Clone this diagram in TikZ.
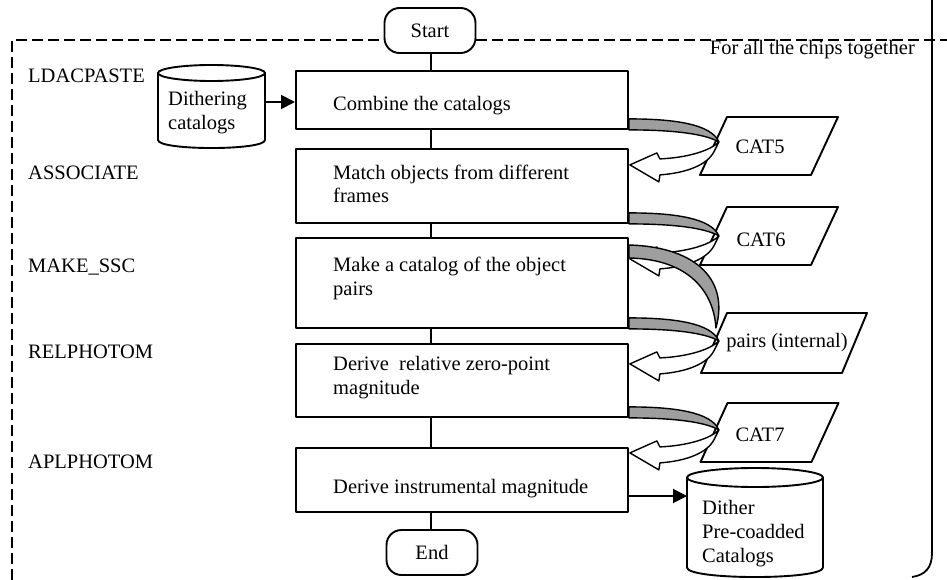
\documentclass[tikz,border=0pt]{standalone}
\usepackage{fontspec}
\setmainfont{Liberation Serif}
\usetikzlibrary{arrows.meta}
\begin{document}
\begin{tikzpicture}[x=1pt, y=-1pt, line join=round,
  every node/.style={font=\fontsize{20.5}{24}\selectfont, inner sep=0pt},
  txt/.style={anchor=base west, align=left},
  procbox/.style={draw, line width=1.9pt, minimum width=332pt, minimum height=#1, anchor=north west},
  term/.style={draw, line width=1.9pt, rounded corners=15pt, minimum width=91pt, minimum height=45pt},
  conn/.style={line width=1.9pt},
  flow/.style={line width=1.9pt, -{Triangle[length=14pt, width=14pt]}},
  frame/.style={line width=1.5pt, dash pattern=on 11pt off 5pt},
  store/.style={line width=1.9pt, fill=white},
  datashape/.style={line width=1.9pt, fill=white},
  band/.style={line width=1.4pt, fill=black!38},
  hollow/.style={line width=1.4pt, fill=white},
  pics/uturn/.style={code={
    % white return arrow heading back to the next step
    \draw[hollow] (90,12) .. controls (80,22) and (55,28) .. (31,29)
      -- (28,23) -- (1,35) -- (30,52) -- (31,45)
      .. controls (58,43) and (78,35) .. (85,22) -- cycle;
    % shaded back of the curved arrow
    \draw[band] (0,-11) .. controls (45,-11) and (82,-6) .. (90,12)
      .. controls (76,4) and (45,0) .. (0,0) -- cycle;
  }}
]
\useasboundingbox (0,0) rectangle (947,580);

% ---- outer frame: dashed group border and right bracket ----
\node[term] (start) at (430,30.5) {Start};
\coordinate (ftl) at (12,40);
\draw[frame] (12,580) -- (ftl) -- (ftl -| start.west);
\draw[frame] (ftl -| start.east) -- (947,40);
\draw[line width=1.8pt] (932,0) -- (932,553)
  .. controls (932,568) and (925,575) .. (912,577);
\node[anchor=base east] (chips) at (915,55) {For all the chips together};

% ---- process steps ----
\node[procbox=58pt] (b1) at (295,70) {};
\node[procbox=74pt] (b2) at (295,148) {};
\node[procbox=90pt] (b3) at (295,237) {};
\node[procbox=73pt] (b4) at (295,343) {};
\node[procbox=64pt] (b5) at (295,447) {};
\node[term] (end) at (432,552.5) {End};

% multi-line labels are placed by the baseline of their last line
\node[txt] (t1) at (333,111) {Combine the catalogs};
\node[txt] (t2) at (333,203) {Match objects from different\\frames};
\node[txt] (t3) at (333,295) {Make a catalog of the object\\pairs};
\node[txt] (t4) at (333,394) {Derive\ \ relative zero-point\\magnitude};
\node[txt] (t5) at (333,493) {Derive instrumental magnitude};

% ---- program names ----
\node[txt] (l1) at (28,83)  {LDACPASTE};
\node[txt] (l2) at (28,180) {ASSOCIATE};
\node[txt] (l3) at (28,272) {MAKE\_SSC};
\node[txt] (l4) at (28,358) {RELPHOTOM};
\node[txt] (l5) at (28,468) {APLPHOTOM};

% ---- main flow line ----
\coordinate (spine) at (431,0);
\draw[conn] (spine |- start.south) -- (spine |- b1.north);
\draw[conn] (spine |- b1.south) -- (spine |- b2.north);
\draw[conn] (spine |- b2.south) -- (spine |- b3.north);
\draw[conn] (spine |- b3.south) -- (spine |- b4.north);
\draw[conn] (spine |- b4.south) -- (spine |- b5.north);
\draw[conn] (spine |- b5.south) -- (spine |- end.north);

% ---- input store ----
\draw[store] (158,73) -- (158,140) .. controls (158,150.7) and (265,150.7) .. (265,140) -- (265,73);
\draw[store] (211.5,73) ellipse [x radius=53.5pt, y radius=8pt];
\node[txt] (cy1) at (168,130) {Dithering\\catalogs};
\coordinate (cy1e) at (265,102);
\draw[flow] (cy1e) -- (cy1e -| b1.west);

% ---- output store ----
\draw[store] (687,477.5) -- (687,567.5) .. controls (687,580.2) and (823,580.2) .. (823,567.5) -- (823,477.5);
\draw[store] (755,477.5) ellipse [x radius=68pt, y radius=9.5pt];
\node[txt] (cy2) at (702,562) {Dither\\Pre-coadded\\Catalogs};
\coordinate (cy2w) at (687,496);
\draw[flow] (cy2w -| b5.east) -- (cy2w);

% ---- intermediate catalogues ----
\coordinate (p5) at (769,146);
\coordinate (p6) at (769,236);
\coordinate (pp) at (784,343);
\coordinate (p7) at (769.5,432.5);
\draw[datashape, shift={(p5)}] (-42,-29) -- (69,-29) -- (42,29) -- (-69,29) -- cycle;
\draw[datashape, shift={(p6)}] (-42,-29) -- (69,-29) -- (42,29) -- (-69,29) -- cycle;
\draw[datashape, shift={(pp)}] (-57,-30) -- (83,-30) -- (58,30) -- (-83,30) -- cycle;
\draw[datashape, shift={(p7)}] (-42,-29.5) -- (69,-29.5) -- (42,29.5) -- (-69,29.5) -- cycle;
\node (c5) at (760,147) {CAT5};
\node (c6) at (761,240) {CAT6};
\node (cp) at (787,343) {pairs (internal)};
\node (c7) at (760,435) {CAT7};

% ---- curved read/write arrows ----
\pic at (b1.south east) {uturn};
\pic at (b2.south east) {uturn};
\draw[band, shift={(b3.north east)}] (0,8) .. controls (70,10) and (100,45) .. (87,91)
  .. controls (85,55) and (60,22) .. (0,21) -- cycle;
\pic at (b3.south east) {uturn};
\pic at (b4.south east) {uturn};
\end{tikzpicture}
\end{document}
